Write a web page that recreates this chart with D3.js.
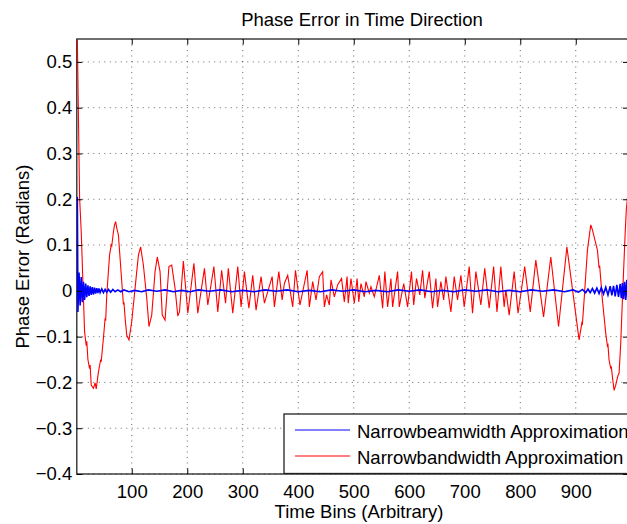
<!DOCTYPE html>
<html lang="en">
<head>
<meta charset="UTF-8">
<title>Phase Error in Time Direction</title>
<script src="https://d3js.org/d3.v7.min.js"></script>
<style>
  body { margin: 0; background: #fff; }
  svg { display: block; font-family: "Liberation Sans", Arial, Helvetica, sans-serif; }
  .grid line { stroke: #000; stroke-opacity: 0.6; stroke-width: 1; stroke-dasharray: 1,4.5; }
  .tick text { font-size: 18.5px; fill: #000; }
</style>
</head>
<body>
<svg id="chart" width="627" height="524"></svg>
<script>
// values
var chartTitle = "Phase Error in Time Direction";
var xLabel = "Time Bins (Arbitrary)";
var yLabel = "Phase Error (Radians)";
var seriesNames = ["Narrowbeamwidth Approximation", "Narrowbandwidth Approximation"];
var seriesColors = ["#0000ff", "#ff0000"];
var xTicks = [100, 200, 300, 400, 500, 600, 700, 800, 900];
var yTicks = [-0.4, -0.3, -0.2, -0.1, 0, 0.1, 0.2, 0.3, 0.4, 0.5];

// blue: [time bin, phase error]
var narrowBeam = [
  [2,0.205],[3,-0.046],[5,0.040],[7,-0.032],[9,0.030],[11,-0.025],[13,0.020],[15,-0.020],
  [17,0.016],[19,-0.014],[21,0.012],[23,-0.011],[25,0.010],[27,-0.009],[29,0.008],[31,-0.008],
  [33,0.007],[35,-0.006],[37,0.006],[39,-0.005],[41,0.005],[43,-0.004],[46,0.004],[49,-0.004],
  [52,0.003],[55,-0.003],[58,0.003],[62,-0.003],[66,0.003],[70,-0.002],[75,0.002],[80,-0.002],
  [86,0.002],[95,-0.002],[105,0.001],[118,-0.002],[130,0.002],[145,-0.001],[160,0.002],[175,-0.002],
  [190,0.001],[205,-0.002],[220,0.002],[240,-0.001],[260,0.002],[280,-0.002],[300,0.001],[320,-0.002],
  [340,0.002],[360,-0.001],[380,0.002],[400,-0.002],[420,0.001],[440,-0.002],[460,0.002],[480,-0.001],
  [500,0.002],[520,-0.002],[540,0.001],[560,-0.002],[580,0.002],[600,-0.001],[620,0.002],[640,-0.002],
  [660,0.001],[680,-0.002],[700,0.002],[720,-0.001],[740,0.002],[760,-0.002],[780,0.001],[800,-0.002],
  [820,0.002],[840,-0.001],[860,0.002],[880,-0.002],[895,0.002],[905,-0.003],[912,0.003],[918,-0.004],
  [922,0.004],[926,-0.004],[930,0.005],[934,-0.005],[938,0.006],[942,-0.006],[946,0.007],[950,-0.007],
  [954,0.008],[958,-0.009],[962,0.010],[965,-0.010],[968,0.011],[971,-0.012],[974,0.013],[977,-0.013],
  [980,0.015],[982,-0.016],[984,0.017],[986,-0.018],[988,0.020],[990,-0.020],[992,0.024],[994,-0.022],
  [996,0.026],[998,-0.024],[1000,0.028]
];

// red: [time bin, phase error]
var narrowBand = [
  [2,0.548],[6,0.205],[9,0.128],[15,-0.089],[18,-0.120],[19,-0.110],[21,-0.150],[24,-0.170],
  [25,-0.162],[27,-0.206],[31,-0.213],[34,-0.201],[36,-0.214],[40,-0.177],[44,-0.150],[45,-0.155],
  [49,-0.103],[52,-0.060],[53,-0.065],[55,-0.009],[60,0.078],[63,0.100],[64,0.098],[67,0.129],
  [69,0.144],[71,0.151],[73,0.137],[76,0.122],[82,0.020],[85,-0.030],[86,-0.025],[88,-0.059],
  [91,-0.097],[95,-0.107],[100,-0.067],[106,0.006],[112,0.078],[116,0.096],[121,0.056],[127,-0.016],
  [131,-0.078],[136,-0.053],[142,0.042],[146,0.074],[151,0.042],[155,-0.053],[160,-0.064],[167,0.053],
  [172,0.056],[178,0.006],[183,-0.055],[186,-0.046],[193,0.065],[201,-0.049],[212,0.060],[219,-0.049],
  [231,0.049],[237,-0.031],[248,0.053],[255,-0.046],[262,0.045],[269,-0.027],[274,0.049],[282,-0.049],
  [291,0.053],[297,-0.035],[303,0.042],[311,-0.038],[318,0.034],[324,-0.042],[333,0.031],[339,-0.027],
  [353,0.031],[357,-0.035],[365,0.042],[371,-0.020],[375,0.016],[381,0.034],[390,-0.035],[395,0.045],
  [403,-0.031],[416,0.045],[420,-0.035],[426,0.020],[432,-0.020],[438,0.031],[444,0.042],[447,-0.035],
  [451,-0.009],[456,-0.031],[459,0.024],[465,-0.013],[471,0.013],[478,0.027],[483,-0.024],[488,0.031],
  [490,-0.027],[495,0.027],[501,-0.027],[506,0.027],[509,-0.024],[513,0.016],[519,-0.013],[522,0.020],
  [528,-0.005],[531,0.009],[537,-0.013],[546,0.034],[552,-0.038],[556,0.042],[561,-0.035],[567,0.027],
  [570,-0.035],[579,0.042],[582,-0.035],[590,0.016],[597,-0.035],[604,0.042],[608,-0.031],[613,0.027],
  [619,-0.009],[624,0.045],[628,-0.016],[636,0.042],[642,-0.038],[648,0.027],[651,-0.035],[657,0.020],
  [662,-0.020],[666,0.031],[675,-0.046],[681,0.031],[687,-0.020],[693,0.034],[699,-0.035],[708,0.053],
  [714,-0.049],[720,0.042],[729,-0.031],[736,0.049],[744,-0.038],[752,0.053],[758,-0.046],[765,0.053],
  [771,-0.035],[774,0.002],[780,-0.053],[789,0.042],[796,-0.049],[808,0.053],[818,-0.046],[828,0.067],
  [842,-0.057],[855,0.074],[869,-0.078],[884,0.096],[906,-0.107],[911,-0.070],[912,-0.072],[915,-0.020],
  [921,0.089],[927,0.144],[930,0.133],[939,0.089],[942,0.050],[943,0.055],[948,-0.020],[954,-0.093],
  [957,-0.120],[958,-0.118],[960,-0.151],[963,-0.170],[964,-0.165],[966,-0.188],[969,-0.217],[972,-0.206],
  [975,-0.190],[976,-0.185],[978,-0.180],[981,-0.115],[984,-0.020],[989,0.126],[991,0.176],[994,0.215],
  [1000,0.330]
];

var svg = d3.select("#chart");
var margin = { left: 76.8, top: 39, bottom: 474 };
var plotRight = 628.5;   // right edge of the axes sits just past the picture

var x = d3.scaleLinear().domain([1, 995]).range([margin.left, plotRight]);
var y = d3.scaleLinear().domain([-0.4, 0.55]).range([margin.bottom, margin.top]);

svg.append("rect").attr("width", 627).attr("height", 524).attr("fill", "#fff");

// dotted grid
var grid = svg.append("g").attr("class", "grid");
grid.selectAll(".gx").data(xTicks).enter().append("line")
    .attr("x1", d => x(d)).attr("x2", d => x(d))
    .attr("y1", margin.top).attr("y2", margin.bottom);
grid.selectAll(".gy").data(yTicks).enter().append("line")
    .attr("x1", margin.left).attr("x2", plotRight)
    .attr("y1", d => y(d)).attr("y2", d => y(d));

svg.append("clipPath").attr("id", "plotClip").append("rect")
    .attr("x", margin.left).attr("y", margin.top)
    .attr("width", plotRight - margin.left).attr("height", margin.bottom - margin.top);

// axes box
svg.append("rect")
    .attr("x", margin.left).attr("y", margin.top)
    .attr("width", plotRight - margin.left).attr("height", margin.bottom - margin.top)
    .attr("fill", "none").attr("stroke", "#222").attr("stroke-width", 1.3);

var line = d3.line().x(d => x(d[0])).y(d => y(d[1]));

var lines = svg.append("g").attr("clip-path", "url(#plotClip)");
lines.append("path").datum(narrowBand)
    .attr("d", line).attr("fill", "none")
    .attr("stroke", seriesColors[1]).attr("stroke-width", 1.1);
lines.append("path").datum(narrowBeam)
    .attr("d", line).attr("fill", "none")
    .attr("stroke", seriesColors[0]).attr("stroke-width", 1.6);

// axes with inward ticks
var fmtY = d => d === 0 ? "0" : d3.format(".1f")(d);

svg.append("g")
    .attr("transform", "translate(0," + margin.bottom + ")")
    .call(d3.axisBottom(x).tickValues(xTicks).tickSizeInner(-5.5).tickSizeOuter(0).tickPadding(11).tickFormat(d3.format("d")))
    .call(g => g.select(".domain").remove());
svg.append("g")
    .attr("transform", "translate(0," + margin.top + ")")
    .call(d3.axisTop(x).tickValues(xTicks).tickSizeInner(-5.5).tickSizeOuter(0).tickFormat(""))
    .call(g => g.select(".domain").remove());
svg.append("g")
    .attr("transform", "translate(" + margin.left + ",0)")
    .call(d3.axisLeft(y).tickValues(yTicks).tickSizeInner(-5.5).tickSizeOuter(0).tickPadding(4.5).tickFormat(fmtY))
    .call(g => g.select(".domain").remove());
svg.append("g")
    .attr("transform", "translate(" + plotRight + ",0)")
    .call(d3.axisRight(y).tickValues(yTicks).tickSizeInner(-5.5).tickSizeOuter(0).tickFormat(""))
    .call(g => g.select(".domain").remove());

svg.selectAll(".tick line").attr("stroke", "#000");

// legend (south east, runs past the picture edge)
var legend = svg.append("g").attr("transform", "translate(284,414)");
legend.append("rect")
    .attr("width", 356).attr("height", 59.5)
    .attr("fill", "#fff").attr("stroke", "#222").attr("stroke-width", 1.3);
seriesNames.forEach(function(name, i) {
    var ly = 16 + i * 26;
    legend.append("line")
        .attr("x1", 11).attr("x2", 66).attr("y1", ly).attr("y2", ly)
        .attr("stroke", seriesColors[i]).attr("stroke-width", 1.1);
    legend.append("text")
        .attr("x", 73).attr("y", ly + 8)
        .attr("font-size", "18.5px")
        .text(name);
});

// title and labels
svg.append("text")
    .attr("x", 362).attr("y", 26)
    .attr("text-anchor", "middle").attr("font-size", "18.5px")
    .text(chartTitle);
svg.append("text")
    .attr("x", 359).attr("y", 518)
    .attr("text-anchor", "middle").attr("font-size", "18.5px")
    .text(xLabel);
svg.append("text")
    .attr("transform", "translate(29," + ((margin.top + margin.bottom) / 2) + ") rotate(-90)")
    .attr("text-anchor", "middle").attr("font-size", "18.5px")
    .text(yLabel);
</script>
</body>
</html>
